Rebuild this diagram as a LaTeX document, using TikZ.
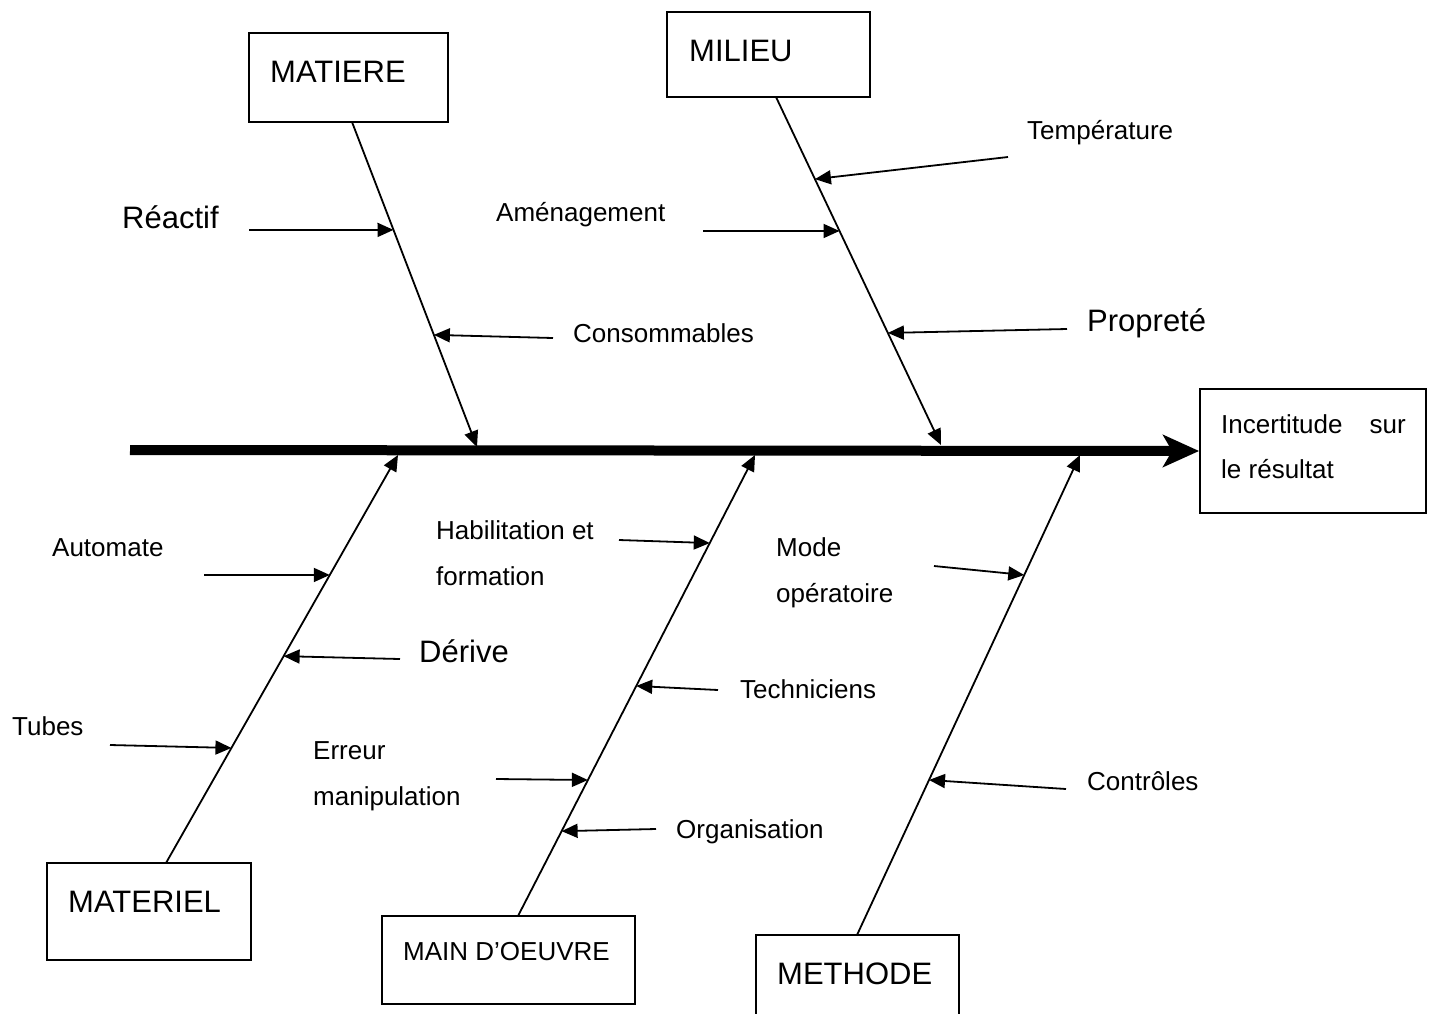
\documentclass[tikz,border=0pt]{standalone}
\usepackage{fontspec}
\setmainfont{Liberation Sans}
\usetikzlibrary{arrows.meta,calc}
\tikzset{
  box/.style={draw, line width=1.8pt, inner sep=0pt},
  cause/.style={line width=1.8pt, -{Triangle[length=16pt,width=14pt]}},
  spine/.style={line width=10pt, -{Stealth[length=36pt,width=32pt,inset=9pt]}},
  small/.style={anchor=base west, inner sep=0pt, font=\fontsize{26}{30}\selectfont},
  big/.style={anchor=base west, inner sep=0pt, font=\fontsize{31}{36}\selectfont},
}
\begin{document}
\begin{tikzpicture}[x=1pt,y=-1pt]
\useasboundingbox (0,0) rectangle (1433,1013);
\clip (0,0) rectangle (1433,1013);
% boxes
\node[box, minimum width=199pt, minimum height=89pt] (matiere) at (348.5,77.5) {};
\node[big] (tmatiere) at (270,82) {MATIERE};
\node[box, minimum width=203pt, minimum height=85pt] (milieu) at (768.5,54.5) {};
\node[big] (tmilieu) at (689,61) {MILIEU};
\node[box, minimum width=226pt, minimum height=124pt] (effet) at (1313,451) {};
\node[small] (teffet1) at (1221,433) {Incertitude};
\node[small, anchor=base east] (teffet2) at (1406,433) {sur};
\node[small] (teffet3) at (1221,478) {le résultat};
\node[box, minimum width=204pt, minimum height=97pt] (materiel) at (149,911.5) {};
\node[big] (tmateriel) at (68,912) {MATERIEL};
\node[box, minimum width=253pt, minimum height=88pt] (main) at (508.5,960) {};
\node[small] (tmain) at (403,960) {MAIN D’OEUVRE};
\node[box, minimum width=203pt, minimum height=110pt] (methode) at (857.5,990) {};
\node[big] (tmethode) at (777,984) {METHODE};

% spine
\coordinate (s0) at (130,450);
\draw[spine] (s0) -- (effet.west);

% bone end points
\coordinate (A1) at (352,122); \coordinate (B1) at (477,447);
\coordinate (A2) at (776,97);  \coordinate (B2) at (941,445);
\coordinate (A3) at (166,863); \coordinate (B3) at (398,455);
\coordinate (A4) at (518,916); \coordinate (B4) at (755,455);
\coordinate (A5) at (857,935); \coordinate (B5) at (1080,455);
\draw[cause] (A1) -- (B1);
\draw[cause] (A2) -- (B2);
\draw[cause] (A3) -- (B3);
\draw[cause] (A4) -- (B4);
\draw[cause] (A5) -- (B5);

% MATIERE causes
\node[big] (reactif) at (122,228) {Réactif};
\coordinate (r0) at (249,230);
\draw[cause] (r0) -- ($(A1)!0.332!(B1)$);
\node[small] (conso) at (573,342) {Consommables};
\coordinate (c0) at (553,338);
\draw[cause] (c0) -- ($(A1)!0.655!(B1)$);

% MILIEU causes
\node[small] (temp) at (1027,139) {Température};
\coordinate (t0) at (1008,157);
\draw[cause] (t0) -- ($(A2)!0.236!(B2)$);
\node[small] (amen) at (496,221) {Aménagement};
\coordinate (am0) at (703,231);
\draw[cause] (am0) -- ($(A2)!0.385!(B2)$);
\node[big] (propre) at (1087,331) {Propreté};
\coordinate (p0) at (1067,329);
\draw[cause] (p0) -- ($(A2)!0.678!(B2)$);

% MATERIEL causes
\node[small] (auto) at (52,556) {Automate};
\coordinate (au0) at (204,575);
\draw[cause] (au0) -- ($(A3)!0.706!(B3)$);
\node[big] (derive) at (419,662) {Dérive};
\coordinate (d0) at (400,659);
\draw[cause] (d0) -- ($(A3)!0.507!(B3)$);
\node[small] (tubes) at (12,735) {Tubes};
\coordinate (tu0) at (110,745);
\draw[cause] (tu0) -- ($(A3)!0.282!(B3)$);

% MAIN D'OEUVRE causes
\node[small] (habil1) at (436,539) {Habilitation et};
\node[small] (habil2) at (436,585) {formation};
\coordinate (h0) at (619,540);
\draw[cause] (h0) -- ($(A4)!0.809!(B4)$);
\node[small] (tech) at (740,698) {Techniciens};
\coordinate (te0) at (718,690);
\draw[cause] (te0) -- ($(A4)!0.499!(B4)$);
\node[small] (err1) at (313,759) {Erreur};
\node[small] (err2) at (313,805) {manipulation};
\coordinate (e0) at (496,779);
\draw[cause] (e0) -- ($(A4)!0.295!(B4)$);
\node[small] (orga) at (676,838) {Organisation};
\coordinate (o0) at (656,829);
\draw[cause] (o0) -- ($(A4)!0.184!(B4)$);

% METHODE causes
\node[small] (mode1) at (776,556) {Mode};
\node[small] (mode2) at (776,602) {opératoire};
\coordinate (m0) at (934,566);
\draw[cause] (m0) -- ($(A5)!0.75!(B5)$);
\node[small] (ctrl) at (1087,790) {Contrôles};
\coordinate (ct0) at (1066,789);
\draw[cause] (ct0) -- ($(A5)!0.323!(B5)$);
\end{tikzpicture}
\end{document}
